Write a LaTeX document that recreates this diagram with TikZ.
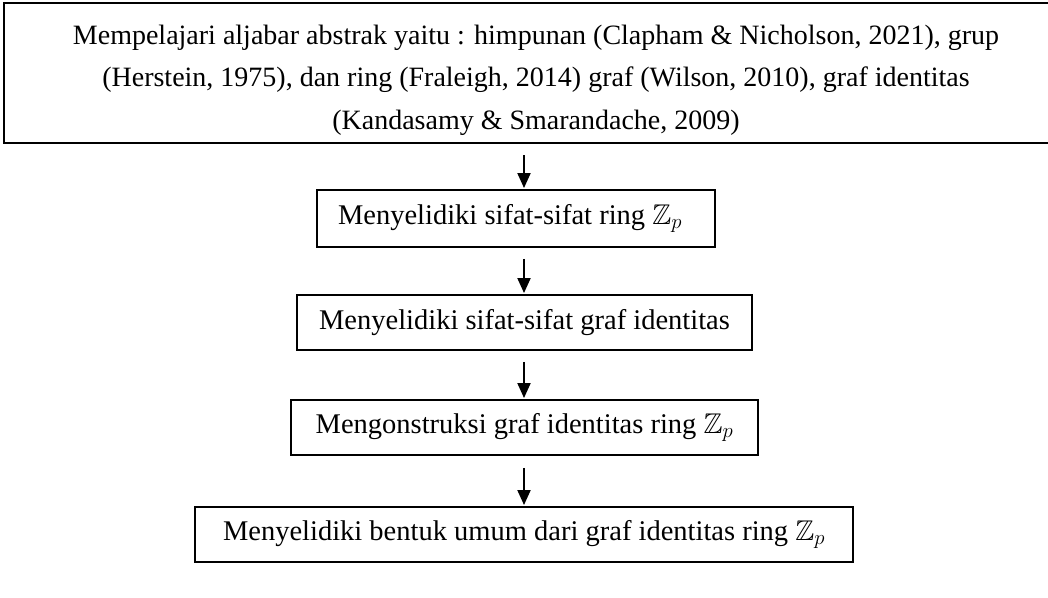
\documentclass[tikz,border=0pt]{standalone}
\usepackage{fontspec}
\setmainfont{Liberation Serif}
\usepackage{amssymb}
\usetikzlibrary{arrows.meta,calc}
\tikzset{
  stepbox/.style={draw=black, line width=1.9pt, inner sep=0pt, align=center,
    font=\fontsize{28.5}{32}\selectfont},
  arr/.style={line width=1.9pt, -{Triangle[width=13pt,length=15pt]}, shorten >=1pt}
}
\begin{document}
\begin{tikzpicture}[x=1pt,y=-1pt]
\useasboundingbox (0,0) rectangle (1048,597);
\node[stepbox, minimum width=1056pt, minimum height=140pt] (top) at (532,73) {};
\node[inner sep=0pt, align=center, font=\fontsize{28}{42.5}\selectfont] (toptext) at (536,80)
  {Mempelajari aljabar abstrak yaitu : himpunan (Clapham \& Nicholson, 2021), grup\\
   (Herstein, 1975), dan ring (Fraleigh, 2014) graf (Wilson, 2010), graf identitas\\
   (Kandasamy \& Smarandache, 2009)};
\node[stepbox, minimum width=398pt, minimum height=57pt] (b2) at (516,218.5) {Menyelidiki sifat-sifat ring $\mathbb{Z}_p$\hspace{12pt}};
\node[stepbox, minimum width=455pt, minimum height=55pt] (b3) at (524.5,322.5) {Menyelidiki sifat-sifat graf identitas};
\node[stepbox, minimum width=467pt, minimum height=55pt] (b4) at (524.5,427.5) {Mengonstruksi graf identitas ring $\mathbb{Z}_p$};
\node[stepbox, minimum width=658pt, minimum height=55pt] (b5) at (524,534.5) {Menyelidiki bentuk umum dari graf identitas ring $\mathbb{Z}_p$};
\coordinate (a1) at (524,155);
\draw[arr] (a1) -- (a1 |- b2.north);
\draw[arr] ($(b2.south -| a1)+(0,-11pt)$) -- (b3.north -| a1);
\draw[arr] ($(b3.south -| a1)+(0,-11pt)$) -- (b4.north -| a1);
\draw[arr] ($(b4.south -| a1)+(0,-12pt)$) -- (b5.north -| a1);
\end{tikzpicture}
\end{document}
